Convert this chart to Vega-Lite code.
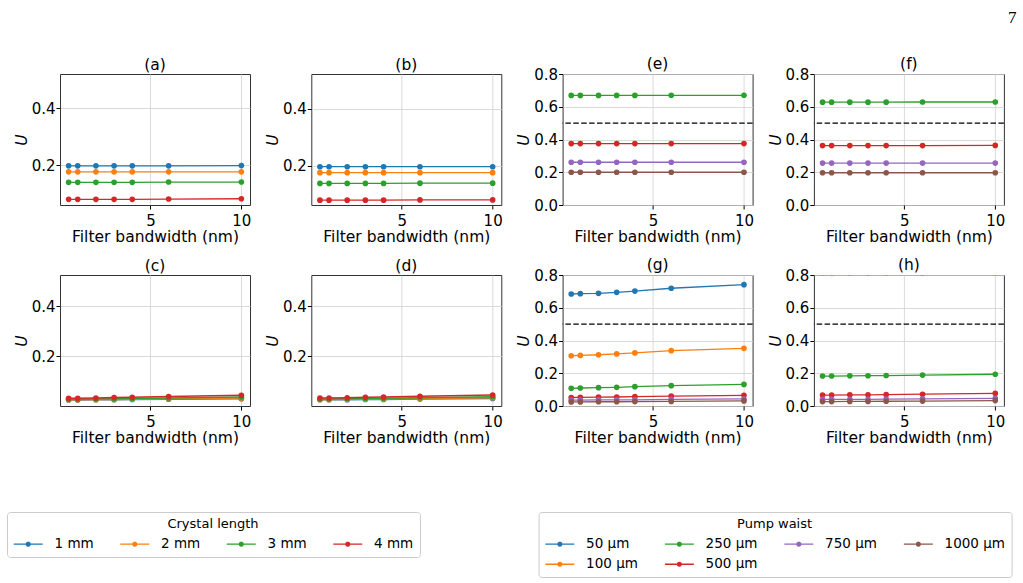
{
  "$schema": "https://vega.github.io/schema/vega-lite/v6.json",
  "padding": {"left": 6, "top": 9, "right": 5, "bottom": 130},
  "background": "white",
  "bounds": "flush",
  "title": {"text": "7", "anchor": "end", "frame": "bounds", "font": "Liberation Serif", "fontSize": 17, "fontWeight": "normal", "offset": 29, "dx": 4, "dy": 0, "color": "black"},
  "data": {"values": [
    {"p":"a","s":"1 mm","x":0.5,"u":0.197},{"p":"a","s":"1 mm","x":1,"u":0.197},{"p":"a","s":"1 mm","x":2,"u":0.197},{"p":"a","s":"1 mm","x":3,"u":0.197},{"p":"a","s":"1 mm","x":4,"u":0.197},{"p":"a","s":"1 mm","x":6,"u":0.197},{"p":"a","s":"1 mm","x":10,"u":0.198},
    {"p":"a","s":"2 mm","x":0.5,"u":0.176},{"p":"a","s":"2 mm","x":1,"u":0.176},{"p":"a","s":"2 mm","x":2,"u":0.176},{"p":"a","s":"2 mm","x":3,"u":0.176},{"p":"a","s":"2 mm","x":4,"u":0.176},{"p":"a","s":"2 mm","x":6,"u":0.176},{"p":"a","s":"2 mm","x":10,"u":0.176},
    {"p":"a","s":"3 mm","x":0.5,"u":0.139},{"p":"a","s":"3 mm","x":1,"u":0.139},{"p":"a","s":"3 mm","x":2,"u":0.139},{"p":"a","s":"3 mm","x":3,"u":0.139},{"p":"a","s":"3 mm","x":4,"u":0.139},{"p":"a","s":"3 mm","x":6,"u":0.14},{"p":"a","s":"3 mm","x":10,"u":0.14},
    {"p":"a","s":"4 mm","x":0.5,"u":0.079},{"p":"a","s":"4 mm","x":1,"u":0.079},{"p":"a","s":"4 mm","x":2,"u":0.079},{"p":"a","s":"4 mm","x":3,"u":0.079},{"p":"a","s":"4 mm","x":4,"u":0.079},{"p":"a","s":"4 mm","x":6,"u":0.08},{"p":"a","s":"4 mm","x":10,"u":0.081},
    {"p":"b","s":"1 mm","x":0.5,"u":0.196},{"p":"b","s":"1 mm","x":1,"u":0.196},{"p":"b","s":"1 mm","x":2,"u":0.196},{"p":"b","s":"1 mm","x":3,"u":0.196},{"p":"b","s":"1 mm","x":4,"u":0.196},{"p":"b","s":"1 mm","x":6,"u":0.196},{"p":"b","s":"1 mm","x":10,"u":0.196},
    {"p":"b","s":"2 mm","x":0.5,"u":0.175},{"p":"b","s":"2 mm","x":1,"u":0.175},{"p":"b","s":"2 mm","x":2,"u":0.175},{"p":"b","s":"2 mm","x":3,"u":0.175},{"p":"b","s":"2 mm","x":4,"u":0.175},{"p":"b","s":"2 mm","x":6,"u":0.175},{"p":"b","s":"2 mm","x":10,"u":0.175},
    {"p":"b","s":"3 mm","x":0.5,"u":0.137},{"p":"b","s":"3 mm","x":1,"u":0.137},{"p":"b","s":"3 mm","x":2,"u":0.137},{"p":"b","s":"3 mm","x":3,"u":0.137},{"p":"b","s":"3 mm","x":4,"u":0.137},{"p":"b","s":"3 mm","x":6,"u":0.138},{"p":"b","s":"3 mm","x":10,"u":0.138},
    {"p":"b","s":"4 mm","x":0.5,"u":0.078},{"p":"b","s":"4 mm","x":1,"u":0.078},{"p":"b","s":"4 mm","x":2,"u":0.078},{"p":"b","s":"4 mm","x":3,"u":0.078},{"p":"b","s":"4 mm","x":4,"u":0.078},{"p":"b","s":"4 mm","x":6,"u":0.079},{"p":"b","s":"4 mm","x":10,"u":0.079},
    {"p":"c","s":"1 mm","x":0.5,"u":0.024},{"p":"c","s":"1 mm","x":1,"u":0.024},{"p":"c","s":"1 mm","x":2,"u":0.025},{"p":"c","s":"1 mm","x":3,"u":0.025},{"p":"c","s":"1 mm","x":4,"u":0.026},{"p":"c","s":"1 mm","x":6,"u":0.027},{"p":"c","s":"1 mm","x":10,"u":0.029},
    {"p":"c","s":"2 mm","x":0.5,"u":0.025},{"p":"c","s":"2 mm","x":1,"u":0.025},{"p":"c","s":"2 mm","x":2,"u":0.026},{"p":"c","s":"2 mm","x":3,"u":0.026},{"p":"c","s":"2 mm","x":4,"u":0.027},{"p":"c","s":"2 mm","x":6,"u":0.029},{"p":"c","s":"2 mm","x":10,"u":0.032},
    {"p":"c","s":"3 mm","x":0.5,"u":0.027},{"p":"c","s":"3 mm","x":1,"u":0.027},{"p":"c","s":"3 mm","x":2,"u":0.028},{"p":"c","s":"3 mm","x":3,"u":0.029},{"p":"c","s":"3 mm","x":4,"u":0.03},{"p":"c","s":"3 mm","x":6,"u":0.032},{"p":"c","s":"3 mm","x":10,"u":0.036},
    {"p":"c","s":"4 mm","x":0.5,"u":0.031},{"p":"c","s":"4 mm","x":1,"u":0.031},{"p":"c","s":"4 mm","x":2,"u":0.032},{"p":"c","s":"4 mm","x":3,"u":0.034},{"p":"c","s":"4 mm","x":4,"u":0.035},{"p":"c","s":"4 mm","x":6,"u":0.038},{"p":"c","s":"4 mm","x":10,"u":0.043},
    {"p":"d","s":"1 mm","x":0.5,"u":0.025},{"p":"d","s":"1 mm","x":1,"u":0.025},{"p":"d","s":"1 mm","x":2,"u":0.025},{"p":"d","s":"1 mm","x":3,"u":0.026},{"p":"d","s":"1 mm","x":4,"u":0.026},{"p":"d","s":"1 mm","x":6,"u":0.028},{"p":"d","s":"1 mm","x":10,"u":0.03},
    {"p":"d","s":"2 mm","x":0.5,"u":0.026},{"p":"d","s":"2 mm","x":1,"u":0.026},{"p":"d","s":"2 mm","x":2,"u":0.027},{"p":"d","s":"2 mm","x":3,"u":0.027},{"p":"d","s":"2 mm","x":4,"u":0.028},{"p":"d","s":"2 mm","x":6,"u":0.03},{"p":"d","s":"2 mm","x":10,"u":0.033},
    {"p":"d","s":"3 mm","x":0.5,"u":0.028},{"p":"d","s":"3 mm","x":1,"u":0.028},{"p":"d","s":"3 mm","x":2,"u":0.029},{"p":"d","s":"3 mm","x":3,"u":0.03},{"p":"d","s":"3 mm","x":4,"u":0.031},{"p":"d","s":"3 mm","x":6,"u":0.033},{"p":"d","s":"3 mm","x":10,"u":0.037},
    {"p":"d","s":"4 mm","x":0.5,"u":0.032},{"p":"d","s":"4 mm","x":1,"u":0.032},{"p":"d","s":"4 mm","x":2,"u":0.033},{"p":"d","s":"4 mm","x":3,"u":0.035},{"p":"d","s":"4 mm","x":4,"u":0.036},{"p":"d","s":"4 mm","x":6,"u":0.039},{"p":"d","s":"4 mm","x":10,"u":0.044},
    {"p":"e","s":"250 µm","x":0.5,"u":0.669},{"p":"e","s":"250 µm","x":1,"u":0.669},{"p":"e","s":"250 µm","x":2,"u":0.669},{"p":"e","s":"250 µm","x":3,"u":0.669},{"p":"e","s":"250 µm","x":4,"u":0.669},{"p":"e","s":"250 µm","x":6,"u":0.67},{"p":"e","s":"250 µm","x":10,"u":0.67},
    {"p":"e","s":"500 µm","x":0.5,"u":0.375},{"p":"e","s":"500 µm","x":1,"u":0.375},{"p":"e","s":"500 µm","x":2,"u":0.375},{"p":"e","s":"500 µm","x":3,"u":0.375},{"p":"e","s":"500 µm","x":4,"u":0.375},{"p":"e","s":"500 µm","x":6,"u":0.375},{"p":"e","s":"500 µm","x":10,"u":0.375},
    {"p":"e","s":"750 µm","x":0.5,"u":0.261},{"p":"e","s":"750 µm","x":1,"u":0.261},{"p":"e","s":"750 µm","x":2,"u":0.261},{"p":"e","s":"750 µm","x":3,"u":0.261},{"p":"e","s":"750 µm","x":4,"u":0.261},{"p":"e","s":"750 µm","x":6,"u":0.261},{"p":"e","s":"750 µm","x":10,"u":0.261},
    {"p":"e","s":"1000 µm","x":0.5,"u":0.2},{"p":"e","s":"1000 µm","x":1,"u":0.2},{"p":"e","s":"1000 µm","x":2,"u":0.2},{"p":"e","s":"1000 µm","x":3,"u":0.2},{"p":"e","s":"1000 µm","x":4,"u":0.2},{"p":"e","s":"1000 µm","x":6,"u":0.2},{"p":"e","s":"1000 µm","x":10,"u":0.2},
    {"p":"f","s":"250 µm","x":0.5,"u":0.628},{"p":"f","s":"250 µm","x":1,"u":0.628},{"p":"f","s":"250 µm","x":2,"u":0.628},{"p":"f","s":"250 µm","x":3,"u":0.628},{"p":"f","s":"250 µm","x":4,"u":0.628},{"p":"f","s":"250 µm","x":6,"u":0.629},{"p":"f","s":"250 µm","x":10,"u":0.629},
    {"p":"f","s":"500 µm","x":0.5,"u":0.363},{"p":"f","s":"500 µm","x":1,"u":0.363},{"p":"f","s":"500 µm","x":2,"u":0.363},{"p":"f","s":"500 µm","x":3,"u":0.363},{"p":"f","s":"500 µm","x":4,"u":0.363},{"p":"f","s":"500 µm","x":6,"u":0.363},{"p":"f","s":"500 µm","x":10,"u":0.364},
    {"p":"f","s":"750 µm","x":0.5,"u":0.256},{"p":"f","s":"750 µm","x":1,"u":0.256},{"p":"f","s":"750 µm","x":2,"u":0.256},{"p":"f","s":"750 µm","x":3,"u":0.256},{"p":"f","s":"750 µm","x":4,"u":0.256},{"p":"f","s":"750 µm","x":6,"u":0.256},{"p":"f","s":"750 µm","x":10,"u":0.256},
    {"p":"f","s":"1000 µm","x":0.5,"u":0.197},{"p":"f","s":"1000 µm","x":1,"u":0.197},{"p":"f","s":"1000 µm","x":2,"u":0.197},{"p":"f","s":"1000 µm","x":3,"u":0.197},{"p":"f","s":"1000 µm","x":4,"u":0.197},{"p":"f","s":"1000 µm","x":6,"u":0.197},{"p":"f","s":"1000 µm","x":10,"u":0.197},
    {"p":"g","s":"50 µm","x":0.5,"u":0.684},{"p":"g","s":"50 µm","x":1,"u":0.686},{"p":"g","s":"50 µm","x":2,"u":0.688},{"p":"g","s":"50 µm","x":3,"u":0.694},{"p":"g","s":"50 µm","x":4,"u":0.702},{"p":"g","s":"50 µm","x":6,"u":0.719},{"p":"g","s":"50 µm","x":10,"u":0.741},
    {"p":"g","s":"100 µm","x":0.5,"u":0.307},{"p":"g","s":"100 µm","x":1,"u":0.309},{"p":"g","s":"100 µm","x":2,"u":0.313},{"p":"g","s":"100 µm","x":3,"u":0.318},{"p":"g","s":"100 µm","x":4,"u":0.324},{"p":"g","s":"100 µm","x":6,"u":0.338},{"p":"g","s":"100 µm","x":10,"u":0.352},
    {"p":"g","s":"250 µm","x":0.5,"u":0.108},{"p":"g","s":"250 µm","x":1,"u":0.11},{"p":"g","s":"250 µm","x":2,"u":0.112},{"p":"g","s":"250 µm","x":3,"u":0.114},{"p":"g","s":"250 µm","x":4,"u":0.118},{"p":"g","s":"250 µm","x":6,"u":0.124},{"p":"g","s":"250 µm","x":10,"u":0.132},
    {"p":"g","s":"500 µm","x":0.5,"u":0.052},{"p":"g","s":"500 µm","x":1,"u":0.053},{"p":"g","s":"500 µm","x":2,"u":0.054},{"p":"g","s":"500 µm","x":3,"u":0.055},{"p":"g","s":"500 µm","x":4,"u":0.057},{"p":"g","s":"500 µm","x":6,"u":0.06},{"p":"g","s":"500 µm","x":10,"u":0.065},
    {"p":"g","s":"750 µm","x":0.5,"u":0.036},{"p":"g","s":"750 µm","x":1,"u":0.036},{"p":"g","s":"750 µm","x":2,"u":0.037},{"p":"g","s":"750 µm","x":3,"u":0.037},{"p":"g","s":"750 µm","x":4,"u":0.038},{"p":"g","s":"750 µm","x":6,"u":0.04},{"p":"g","s":"750 µm","x":10,"u":0.043},
    {"p":"g","s":"1000 µm","x":0.5,"u":0.025},{"p":"g","s":"1000 µm","x":1,"u":0.025},{"p":"g","s":"1000 µm","x":2,"u":0.026},{"p":"g","s":"1000 µm","x":3,"u":0.026},{"p":"g","s":"1000 µm","x":4,"u":0.027},{"p":"g","s":"1000 µm","x":6,"u":0.028},{"p":"g","s":"1000 µm","x":10,"u":0.031},
    {"p":"h","s":"100 µm","x":0.5,"u":0.812},{"p":"h","s":"100 µm","x":1,"u":0.812},{"p":"h","s":"100 µm","x":2,"u":0.812},{"p":"h","s":"100 µm","x":3,"u":0.812},{"p":"h","s":"100 µm","x":4,"u":0.812},{"p":"h","s":"100 µm","x":6,"u":0.812},{"p":"h","s":"100 µm","x":10,"u":0.812},
    {"p":"h","s":"250 µm","x":0.5,"u":0.183},{"p":"h","s":"250 µm","x":1,"u":0.183},{"p":"h","s":"250 µm","x":2,"u":0.184},{"p":"h","s":"250 µm","x":3,"u":0.185},{"p":"h","s":"250 µm","x":4,"u":0.186},{"p":"h","s":"250 µm","x":6,"u":0.189},{"p":"h","s":"250 µm","x":10,"u":0.194},
    {"p":"h","s":"500 µm","x":0.5,"u":0.067},{"p":"h","s":"500 µm","x":1,"u":0.067},{"p":"h","s":"500 µm","x":2,"u":0.068},{"p":"h","s":"500 µm","x":3,"u":0.068},{"p":"h","s":"500 µm","x":4,"u":0.069},{"p":"h","s":"500 µm","x":6,"u":0.072},{"p":"h","s":"500 µm","x":10,"u":0.077},
    {"p":"h","s":"750 µm","x":0.5,"u":0.04},{"p":"h","s":"750 µm","x":1,"u":0.04},{"p":"h","s":"750 µm","x":2,"u":0.041},{"p":"h","s":"750 µm","x":3,"u":0.041},{"p":"h","s":"750 µm","x":4,"u":0.042},{"p":"h","s":"750 µm","x":6,"u":0.044},{"p":"h","s":"750 µm","x":10,"u":0.047},
    {"p":"h","s":"1000 µm","x":0.5,"u":0.027},{"p":"h","s":"1000 µm","x":1,"u":0.027},{"p":"h","s":"1000 µm","x":2,"u":0.028},{"p":"h","s":"1000 µm","x":3,"u":0.028},{"p":"h","s":"1000 µm","x":4,"u":0.029},{"p":"h","s":"1000 µm","x":6,"u":0.03},{"p":"h","s":"1000 µm","x":10,"u":0.033}
  ]},
  "columns": 4,
  "spacing": {"row": 70, "column": 61.3},
  "resolve": {"scale": {"color": "independent"}},
  "concat": [
    {"width": 190, "height": 131, "title": "(a)",
     "layer": [
      {"transform": [{"filter": "datum.p === 'a'"}], "mark": {"type": "line", "strokeWidth": 1.3, "clip": true},
       "encoding": {"x": {"field": "x", "type": "quantitative", "scale": {"domain": [0.025, 10.475], "nice": false, "zero": false}, "axis": {"values": [5, 10], "title": "Filter bandwidth (nm)"}},
        "y": {"field": "u", "type": "quantitative", "scale": {"domain": [0.059, 0.521], "nice": false, "zero": false}, "axis": {"values": [0.2, 0.4], "tickCount": 10, "format": ".1f", "title": "U"}},
        "color": {"field": "s", "type": "nominal", "scale": {"domain": ["1 mm","2 mm","3 mm","4 mm"], "range": ["#1f77b4","#ff7f0e","#2ca02c","#d62728"]}, "legend": null}}},
      {"transform": [{"filter": "datum.p === 'a'"}], "mark": {"type": "point", "filled": true, "opacity": 1, "size": 32, "clip": true},
       "encoding": {"x": {"field": "x", "type": "quantitative"}, "y": {"field": "u", "type": "quantitative"},
        "color": {"field": "s", "type": "nominal", "legend": null}}}
     ]},
    {"width": 190, "height": 131, "title": "(b)",
     "layer": [
      {"transform": [{"filter": "datum.p === 'b'"}], "mark": {"type": "line", "strokeWidth": 1.3, "clip": true},
       "encoding": {"x": {"field": "x", "type": "quantitative", "scale": {"domain": [0.025, 10.475], "nice": false, "zero": false}, "axis": {"values": [5, 10], "title": "Filter bandwidth (nm)"}},
        "y": {"field": "u", "type": "quantitative", "scale": {"domain": [0.061, 0.523], "nice": false, "zero": false}, "axis": {"values": [0.2, 0.4], "tickCount": 10, "format": ".1f", "title": "U"}},
        "color": {"field": "s", "type": "nominal", "scale": {"domain": ["1 mm","2 mm","3 mm","4 mm"], "range": ["#1f77b4","#ff7f0e","#2ca02c","#d62728"]}, "legend": null}}},
      {"transform": [{"filter": "datum.p === 'b'"}], "mark": {"type": "point", "filled": true, "opacity": 1, "size": 32, "clip": true},
       "encoding": {"x": {"field": "x", "type": "quantitative"}, "y": {"field": "u", "type": "quantitative"},
        "color": {"field": "s", "type": "nominal", "legend": null}}}
     ]},
    {"width": 190, "height": 131, "title": {"text": "(e)", "dy": 9},
     "layer": [
      {"transform": [{"filter": "datum.p === 'e'"}], "mark": {"type": "line", "strokeWidth": 1.3, "clip": true},
       "encoding": {"x": {"field": "x", "type": "quantitative", "scale": {"domain": [0.025, 10.475], "nice": false, "zero": false}, "axis": {"values": [5, 10], "title": "Filter bandwidth (nm)"}},
        "y": {"field": "u", "type": "quantitative", "scale": {"domain": [0, 0.8], "nice": false, "zero": false}, "axis": {"values": [0, 0.2, 0.4, 0.6, 0.8], "tickCount": 10, "format": ".1f", "title": "U"}},
        "color": {"field": "s", "type": "nominal", "scale": {"domain": ["50 µm","250 µm","750 µm","1000 µm","100 µm","500 µm"], "range": ["#1f77b4","#2ca02c","#9467bd","#8c564b","#ff7f0e","#d62728"]}, "legend": null}}},
      {"transform": [{"filter": "datum.p === 'e'"}], "mark": {"type": "point", "filled": true, "opacity": 1, "size": 32, "clip": true},
       "encoding": {"x": {"field": "x", "type": "quantitative"}, "y": {"field": "u", "type": "quantitative"},
        "color": {"field": "s", "type": "nominal", "legend": null}}},
      {"data": {"values": [{"t": 0.5}]}, "mark": {"type": "rule", "color": "black", "strokeDash": [5.5, 2.4], "strokeWidth": 1.2},
       "encoding": {"y": {"field": "t", "type": "quantitative"}}}
     ]},
    {"width": 190, "height": 131, "title": {"text": "(f)", "dy": 9},
     "layer": [
      {"transform": [{"filter": "datum.p === 'f'"}], "mark": {"type": "line", "strokeWidth": 1.3, "clip": true},
       "encoding": {"x": {"field": "x", "type": "quantitative", "scale": {"domain": [0.025, 10.475], "nice": false, "zero": false}, "axis": {"values": [5, 10], "title": "Filter bandwidth (nm)"}},
        "y": {"field": "u", "type": "quantitative", "scale": {"domain": [0, 0.8], "nice": false, "zero": false}, "axis": {"values": [0, 0.2, 0.4, 0.6, 0.8], "tickCount": 10, "format": ".1f", "title": "U"}},
        "color": {"field": "s", "type": "nominal", "scale": {"domain": ["50 µm","250 µm","750 µm","1000 µm","100 µm","500 µm"], "range": ["#1f77b4","#2ca02c","#9467bd","#8c564b","#ff7f0e","#d62728"]}, "legend": null}}},
      {"transform": [{"filter": "datum.p === 'f'"}], "mark": {"type": "point", "filled": true, "opacity": 1, "size": 32, "clip": true},
       "encoding": {"x": {"field": "x", "type": "quantitative"}, "y": {"field": "u", "type": "quantitative"},
        "color": {"field": "s", "type": "nominal", "legend": null}}},
      {"data": {"values": [{"t": 0.5}]}, "mark": {"type": "rule", "color": "black", "strokeDash": [5.5, 2.4], "strokeWidth": 1.2},
       "encoding": {"y": {"field": "t", "type": "quantitative"}}}
     ]},
    {"width": 190, "height": 131, "title": "(c)",
     "layer": [
      {"transform": [{"filter": "datum.p === 'c'"}], "mark": {"type": "line", "strokeWidth": 1.3, "clip": true},
       "encoding": {"x": {"field": "x", "type": "quantitative", "scale": {"domain": [0.025, 10.475], "nice": false, "zero": false}, "axis": {"values": [5, 10], "title": "Filter bandwidth (nm)"}},
        "y": {"field": "u", "type": "quantitative", "scale": {"domain": [0.0, 0.524], "nice": false, "zero": false}, "axis": {"values": [0.2, 0.4], "tickCount": 10, "format": ".1f", "title": "U"}},
        "color": {"field": "s", "type": "nominal", "scale": {"domain": ["1 mm","2 mm","3 mm","4 mm"], "range": ["#1f77b4","#ff7f0e","#2ca02c","#d62728"]},
          "legend": {"orient": "none", "legendX": -53, "legendY": 237, "title": "Crystal length", "direction": "horizontal", "columns": 4, "columnPadding": 25.5, "rowPadding": 5.5, "labelOffset": 28, "symbolSize": 144, "symbolStrokeWidth": 0, "symbolType": "M-1,-0.117H3.833V0.117H-1Z M1.85,0L1.792,0.217L1.633,0.375L1.417,0.433L1.2,0.375L1.042,0.217L0.984,0L1.042,-0.217L1.2,-0.375L1.417,-0.433L1.633,-0.375L1.792,-0.217Z", "padding": 6, "titlePadding": 6}}}},
      {"transform": [{"filter": "datum.p === 'c'"}], "mark": {"type": "point", "filled": true, "opacity": 1, "size": 32, "clip": true},
       "encoding": {"x": {"field": "x", "type": "quantitative"}, "y": {"field": "u", "type": "quantitative"},
        "color": {"field": "s", "type": "nominal"}}}
     ]},
    {"width": 190, "height": 131, "title": "(d)",
     "layer": [
      {"transform": [{"filter": "datum.p === 'd'"}], "mark": {"type": "line", "strokeWidth": 1.3, "clip": true},
       "encoding": {"x": {"field": "x", "type": "quantitative", "scale": {"domain": [0.025, 10.475], "nice": false, "zero": false}, "axis": {"values": [5, 10], "title": "Filter bandwidth (nm)"}},
        "y": {"field": "u", "type": "quantitative", "scale": {"domain": [0.0, 0.524], "nice": false, "zero": false}, "axis": {"values": [0.2, 0.4], "tickCount": 10, "format": ".1f", "title": "U"}},
        "color": {"field": "s", "type": "nominal", "scale": {"domain": ["1 mm","2 mm","3 mm","4 mm"], "range": ["#1f77b4","#ff7f0e","#2ca02c","#d62728"]}, "legend": null}}},
      {"transform": [{"filter": "datum.p === 'd'"}], "mark": {"type": "point", "filled": true, "opacity": 1, "size": 32, "clip": true},
       "encoding": {"x": {"field": "x", "type": "quantitative"}, "y": {"field": "u", "type": "quantitative"},
        "color": {"field": "s", "type": "nominal", "legend": null}}}
     ]},
    {"width": 190, "height": 131, "title": {"text": "(g)", "dy": 9},
     "layer": [
      {"transform": [{"filter": "datum.p === 'g'"}], "mark": {"type": "line", "strokeWidth": 1.3, "clip": true},
       "encoding": {"x": {"field": "x", "type": "quantitative", "scale": {"domain": [0.025, 10.475], "nice": false, "zero": false}, "axis": {"values": [5, 10], "title": "Filter bandwidth (nm)"}},
        "y": {"field": "u", "type": "quantitative", "scale": {"domain": [0, 0.8], "nice": false, "zero": false}, "axis": {"values": [0, 0.2, 0.4, 0.6, 0.8], "tickCount": 10, "format": ".1f", "title": "U"}},
        "color": {"field": "s", "type": "nominal", "scale": {"domain": ["50 µm","250 µm","750 µm","1000 µm","100 µm","500 µm"], "range": ["#1f77b4","#2ca02c","#9467bd","#8c564b","#ff7f0e","#d62728"]},
          "legend": {"orient": "none", "legendX": -24, "legendY": 237, "title": "Pump waist", "direction": "horizontal", "columns": 4, "columnPadding": 25.5, "rowPadding": 5.5, "labelOffset": 28, "symbolSize": 144, "symbolStrokeWidth": 0, "symbolType": "M-1,-0.117H3.833V0.117H-1Z M1.85,0L1.792,0.217L1.633,0.375L1.417,0.433L1.2,0.375L1.042,0.217L0.984,0L1.042,-0.217L1.2,-0.375L1.417,-0.433L1.633,-0.375L1.792,-0.217Z", "padding": 6, "titlePadding": 6}}}},
      {"transform": [{"filter": "datum.p === 'g'"}], "mark": {"type": "point", "filled": true, "opacity": 1, "size": 32, "clip": true},
       "encoding": {"x": {"field": "x", "type": "quantitative"}, "y": {"field": "u", "type": "quantitative"},
        "color": {"field": "s", "type": "nominal"}}},
      {"data": {"values": [{"t": 0.5}]}, "mark": {"type": "rule", "color": "black", "strokeDash": [5.5, 2.4], "strokeWidth": 1.2},
       "encoding": {"y": {"field": "t", "type": "quantitative"}}}
     ]},
    {"width": 190, "height": 131, "title": {"text": "(h)", "dy": 9},
     "layer": [
      {"transform": [{"filter": "datum.p === 'h'"}], "mark": {"type": "line", "strokeWidth": 1.3, "clip": true},
       "encoding": {"x": {"field": "x", "type": "quantitative", "scale": {"domain": [0.025, 10.475], "nice": false, "zero": false}, "axis": {"values": [5, 10], "title": "Filter bandwidth (nm)"}},
        "y": {"field": "u", "type": "quantitative", "scale": {"domain": [0, 0.8], "nice": false, "zero": false}, "axis": {"values": [0, 0.2, 0.4, 0.6, 0.8], "tickCount": 10, "format": ".1f", "title": "U"}},
        "color": {"field": "s", "type": "nominal", "scale": {"domain": ["50 µm","250 µm","750 µm","1000 µm","100 µm","500 µm"], "range": ["#1f77b4","#2ca02c","#9467bd","#8c564b","#ff7f0e","#d62728"]}, "legend": null}}},
      {"transform": [{"filter": "datum.p === 'h'"}], "mark": {"type": "point", "filled": true, "opacity": 1, "size": 32, "clip": true},
       "encoding": {"x": {"field": "x", "type": "quantitative"}, "y": {"field": "u", "type": "quantitative"},
        "color": {"field": "s", "type": "nominal", "legend": null}}},
      {"data": {"values": [{"t": 0.5}]}, "mark": {"type": "rule", "color": "black", "strokeDash": [5.5, 2.4], "strokeWidth": 1.2},
       "encoding": {"y": {"field": "t", "type": "quantitative"}}}
     ]}
  ],
  "config": {
    "font": "DejaVu Sans",
    "view": {"stroke": "#333333", "strokeWidth": 1},
    "title": {"fontSize": 15.5, "fontWeight": "normal", "font": "DejaVu Sans", "offset": 0, "dy": 3, "color": "black"},
    "axis": {"labelFont": "DejaVu Sans", "titleFont": "DejaVu Sans", "labelFontSize": 15, "titleFontSize": 15.5, "titleFontWeight": "normal", "labelColor": "black", "titleColor": "black", "tickColor": "black", "tickSize": 4, "domain": false, "gridColor": "#d0d0d0", "gridWidth": 0.8, "labelFlush": false, "labelOverlap": false},
    "axisX": {"labelPadding": 4, "titlePadding": 1},
    "axisY": {"labelPadding": 1, "titlePadding": 2, "titleFontStyle": "italic"},
    "legend": {"labelFont": "DejaVu Sans", "titleFont": "DejaVu Sans", "labelFontSize": 13.5, "titleFontSize": 13, "titleFontWeight": "normal", "labelColor": "black", "titleColor": "black", "strokeColor": "#cccccc", "cornerRadius": 3, "fillColor": "white", "titleAnchor": "middle"}
  }
}
